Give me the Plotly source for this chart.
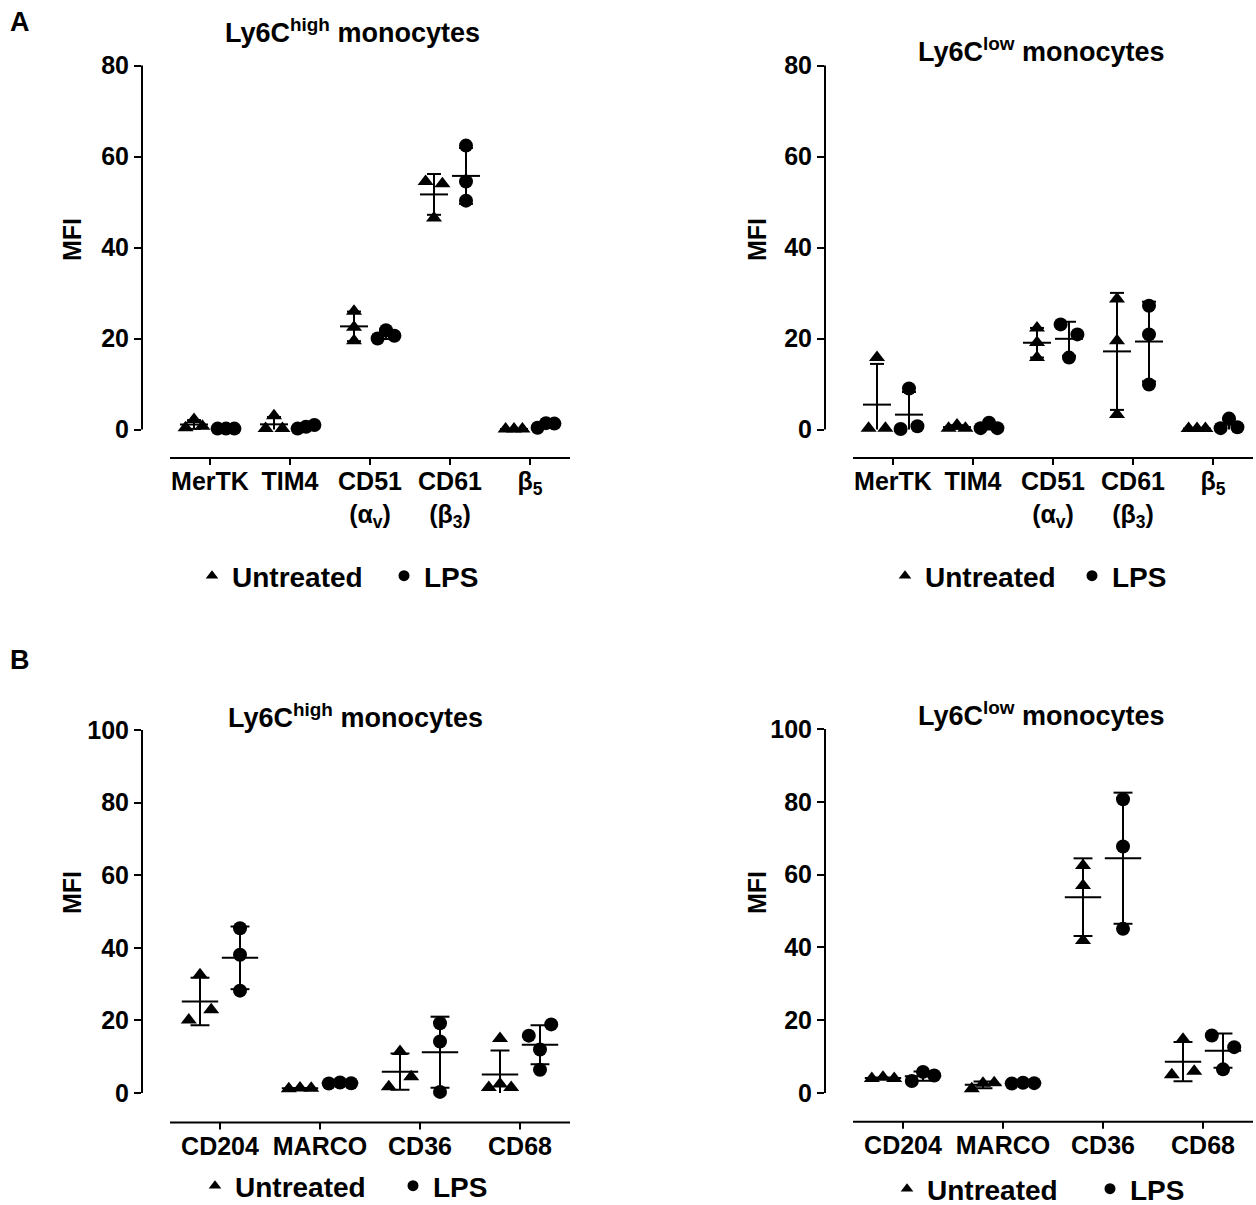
import numpy as np
import plotly.graph_objects as go

W, H = 1256, 1205

# ---------------- data ----------------
cats_A = ["MerTK", "TIM4", "CD51<br>(α<sub>v</sub>)", "CD61<br>(β<sub>3</sub>)", "β<sub>5</sub>"]
cats_B = ["CD204", "MARCO", "CD36", "CD68"]
ticks_A = [0, 20, 40, 60, 80]
ticks_B = [0, 20, 40, 60, 80, 100]

a_high_untreated = [[0.4, 2.2, 0.7], [0.2, 3.0, 0.2], [26.0, 22.5, 19.5], [54.5, 46.5, 54.0], [0.1, 0.1, 0.1]]
a_high_lps = [[0.2, 0.2, 0.2], [0.2, 0.6, 1.0], [20.0, 21.8, 20.6], [62.4, 54.5, 50.3], [0.4, 1.4, 1.3]]
a_low_untreated = [[0.3, 15.8, 0.3], [0.3, 1.0, 0.3], [22.3, 19.1, 15.8], [28.7, 19.5, 3.3], [0.2, 0.2, 0.2]]
a_low_lps = [[0.1, 9.0, 0.7], [0.3, 1.5, 0.3], [23.1, 20.9, 15.8], [27.2, 20.9, 9.9], [0.3, 2.4, 0.5]]

b_high_untreated = [[20.1, 32.6, 22.9], [1.2, 1.4, 1.3], [1.7, 11.4, 4.5], [1.5, 2.5, 1.5, 15.0]]
b_high_lps = [[45.4, 38.1, 28.2], [2.6, 2.9, 2.7], [19.2, 14.2, 0.3], [15.8, 18.9, 12.0, 6.4]]
b_low_untreated = [[4.0, 4.3, 4.0], [1.2, 2.7, 2.8], [62.5, 57.0, 41.9], [5.0, 14.8, 6.0]]
b_low_lps = [[3.3, 5.8, 4.8], [2.6, 2.8, 2.7], [80.7, 67.7, 45.1], [15.8, 12.6, 6.5]]

titles = ["Ly6C<sup>high</sup> monocytes", "Ly6C<sup>low</sup> monocytes",
          "Ly6C<sup>high</sup> monocytes", "Ly6C<sup>low</sup> monocytes"]
legend_names = ["Untreated", "LPS"]

# ---------------- layout geometry (pixels) ----------------
FONT = "Liberation Sans, Arial, Helvetica, sans-serif"
panels = [
    dict(cats=cats_A, unt=a_high_untreated, lps=a_high_lps, ticks=ticks_A,
         px_yaxis=142, px_first=210, step=80, px_zero=429.5, px_top=65.5, px_xline=458, px_dtop=55,
         spread=0.105, mean_sz=20, cap_sz=10,
         title_xy=(352, 31), mfi_xy=(72, 240), leg_xy=(212, 576), leg_w=147),
    dict(cats=cats_A, unt=a_low_untreated, lps=a_low_lps, ticks=ticks_A,
         px_yaxis=825, px_first=893, step=80, px_zero=429.5, px_top=65.5, px_xline=458, px_dtop=55,
         spread=0.105, mean_sz=20, cap_sz=10,
         title_xy=(1041, 50), mfi_xy=(757, 240), leg_xy=(905, 576), leg_w=142),
    dict(cats=cats_B, unt=b_high_untreated, lps=b_high_lps, ticks=ticks_B,
         px_yaxis=142, px_first=220, step=100, px_zero=1093, px_top=730, px_xline=1122.5, px_dtop=720,
         spread=0.112, mean_sz=26, cap_sz=13.5,
         title_xy=(355, 716), mfi_xy=(72, 893), leg_xy=(215, 1186), leg_w=153),
    dict(cats=cats_B, unt=b_low_untreated, lps=b_low_lps, ticks=ticks_B,
         px_yaxis=825, px_first=903, step=100, px_zero=1093, px_top=729, px_xline=1121.7, px_dtop=720,
         spread=0.112, mean_sz=26, cap_sz=13.5,
         title_xy=(1041, 714), mfi_xy=(757, 893), leg_xy=(907, 1189), leg_w=158),
]
GROUP_OFF = 0.2
CLUSTER_PX = 12.8
TICKLEN = 7


def spread_offsets(vals, pxu, s):
    """Horizontal spreading of overlapping replicate points (deterministic)."""
    vals = np.asarray(vals, float)
    order = np.argsort(vals, kind="stable")
    clusters, cur = [], [order[0]]
    for a, b in zip(order[:-1], order[1:]):
        if (vals[b] - vals[a]) * pxu < CLUSTER_PX:
            cur.append(b)
        else:
            clusters.append(cur)
            cur = [b]
    clusters.append(cur)
    off = np.zeros(len(vals))
    for c in clusters:
        c = sorted(c)
        n = len(c)
        for i, idx in enumerate(c):
            if n % 2:
                off[idx] = (i - (n - 1) / 2) * s
            else:
                off[idx] = (-(n // 2 - i) if i < n // 2 else (i - n // 2 + 1)) * s
    return off


fig = go.Figure()
layout = dict(width=W, height=H, margin=dict(l=0, r=0, t=0, b=0, autoexpand=False),
              paper_bgcolor="white", plot_bgcolor="white", showlegend=True,
              font=dict(family=FONT, color="black"))
shapes, annotations = [], []

for k, p in enumerate(panels, start=1):
    xs = "x" if k == 1 else f"x{k}"
    ys = "y" if k == 1 else f"y{k}"
    legname = "legend" if k == 1 else f"legend{k}"
    n = len(p["cats"])
    ymax = p["ticks"][-1]
    pxu = (p["px_zero"] - p["px_top"]) / ymax
    xr0 = -(p["px_first"] - p["px_yaxis"]) / p["step"]
    xr1 = n - 0.5
    px_right = p["px_first"] + (n - 0.5) * p["step"]
    yr0 = -(p["px_xline"] - p["px_zero"]) / pxu
    yr1 = ymax + (p["px_top"] - p["px_dtop"]) / pxu
    dom_h = p["px_xline"] - p["px_dtop"]

    ax_x = dict(domain=[p["px_yaxis"] / W, px_right / W], range=[xr0, xr1], anchor=ys,
                tickmode="array", tickvals=list(range(n)), ticktext=p["cats"],
                ticks="", ticklabelstandoff=6,
                showline=False, showgrid=False, zeroline=False, fixedrange=True,
                tickfont=dict(size=25, family=FONT, color="black", weight="bold"))
    ax_y = dict(domain=[1 - p["px_xline"] / H, 1 - p["px_dtop"] / H], range=[yr0, yr1], anchor=xs,
                tickmode="array", tickvals=p["ticks"], ticks="outside", ticklen=TICKLEN, tickwidth=2,
                tickcolor="black", showline=False, showgrid=False, zeroline=False, fixedrange=True,
                tickfont=dict(size=25, family=FONT, color="black", weight="bold"))
    layout["xaxis" if k == 1 else f"xaxis{k}"] = ax_x
    layout["yaxis" if k == 1 else f"yaxis{k}"] = ax_y

    # Prism-style detached axis lines
    shapes.append(dict(type="line", xref=f"{xs} domain", yref=ys, x0=0, x1=0, y0=0, y1=ymax,
                       line=dict(color="black", width=2)))
    shapes.append(dict(type="line", xref=xs, yref=f"{ys} domain", x0=-0.5, x1=n - 0.5, y0=0, y1=0,
                       line=dict(color="black", width=2)))
    for ci in range(n):
        shapes.append(dict(type="line", xref=xs, yref=f"{ys} domain", x0=ci, x1=ci,
                           y0=0, y1=-TICKLEN / dom_h, line=dict(color="black", width=2)))

    mean_x, mean_y, cap_x, cap_y, sd_x, sd_y = [], [], [], [], [], []
    for grp, sym, gsign in ((p["unt"], "triangle-up", -1), (p["lps"], "circle", 1)):
        px_, py_ = [], []
        for ci, vals in enumerate(grp):
            xc = ci + gsign * GROUP_OFF
            offs = spread_offsets(vals, pxu, p["spread"])
            px_ += list(xc + offs)
            py_ += list(vals)
            m = float(np.mean(vals))
            sd = float(np.std(vals, ddof=1))
            mean_x.append(xc); mean_y.append(m)
            hi, lo = m + sd, m - sd
            sd_x += [xc, xc, None]
            sd_y += [hi, max(lo, 0.0), None]
            cap_x.append(xc); cap_y.append(hi)
            if lo >= 0:
                cap_x.append(xc); cap_y.append(lo)
        fig.add_trace(go.Scatter(x=px_, y=py_, mode="markers", xaxis=xs, yaxis=ys, showlegend=False,
                                 marker=dict(symbol=sym, size=14, color="black", line=dict(width=0)),
                                 cliponaxis=False, hoverinfo="y"))
    fig.add_trace(go.Scatter(x=sd_x, y=sd_y, mode="lines", xaxis=xs, yaxis=ys, showlegend=False,
                             line=dict(color="black", width=2), hoverinfo="skip"))
    fig.add_trace(go.Scatter(x=cap_x, y=cap_y, mode="markers", xaxis=xs, yaxis=ys, showlegend=False,
                             marker=dict(symbol="line-ew", size=p["cap_sz"],
                                         line=dict(color="black", width=2)), hoverinfo="skip"))
    fig.add_trace(go.Scatter(x=mean_x, y=mean_y, mode="markers", xaxis=xs, yaxis=ys, showlegend=False,
                             marker=dict(symbol="line-ew", size=p["mean_sz"],
                                         line=dict(color="black", width=2)), hoverinfo="y"))
    # legend keys
    for name, sym in zip(legend_names, ("triangle-up", "circle")):
        fig.add_trace(go.Scatter(x=[None], y=[None], mode="markers", xaxis=xs, yaxis=ys, name=name,
                                 legend=legname, showlegend=True,
                                 marker=dict(symbol=sym, size=11, color="black")))
    lx, ly = p["leg_xy"]
    layout[legname] = dict(orientation="h", x=(lx - 20) / W, y=1 - ly / H, xanchor="left",
                           yanchor="middle", bgcolor="rgba(0,0,0,0)", borderwidth=0,
                           entrywidth=p["leg_w"], entrywidthmode="pixels",
                           font=dict(size=28, family=FONT, color="black", weight="bold"),
                           itemclick=False, itemdoubleclick=False)

    tx, ty = p["title_xy"]
    annotations.append(dict(text=titles[k - 1], x=tx / W, y=1 - ty / H, xref="paper", yref="paper",
                            xanchor="center", yanchor="middle", showarrow=False,
                            font=dict(size=27, family=FONT, color="black", weight="bold")))
    mx, my = p["mfi_xy"]
    annotations.append(dict(text="MFI", x=mx / W, y=1 - my / H, xref="paper", yref="paper",
                            xanchor="center", yanchor="middle", showarrow=False, textangle=-90,
                            font=dict(size=25, family=FONT, color="black", weight="bold")))

for letter, (lx, ly) in (("A", (20, 22)), ("B", (20, 660))):
    annotations.append(dict(text=letter, x=lx / W, y=1 - ly / H, xref="paper", yref="paper",
                            xanchor="center", yanchor="middle", showarrow=False,
                            font=dict(size=27, family=FONT, color="black", weight="bold")))

layout["shapes"] = shapes
layout["annotations"] = annotations
fig.update_layout(**layout)
fig.write_html("out.html")
